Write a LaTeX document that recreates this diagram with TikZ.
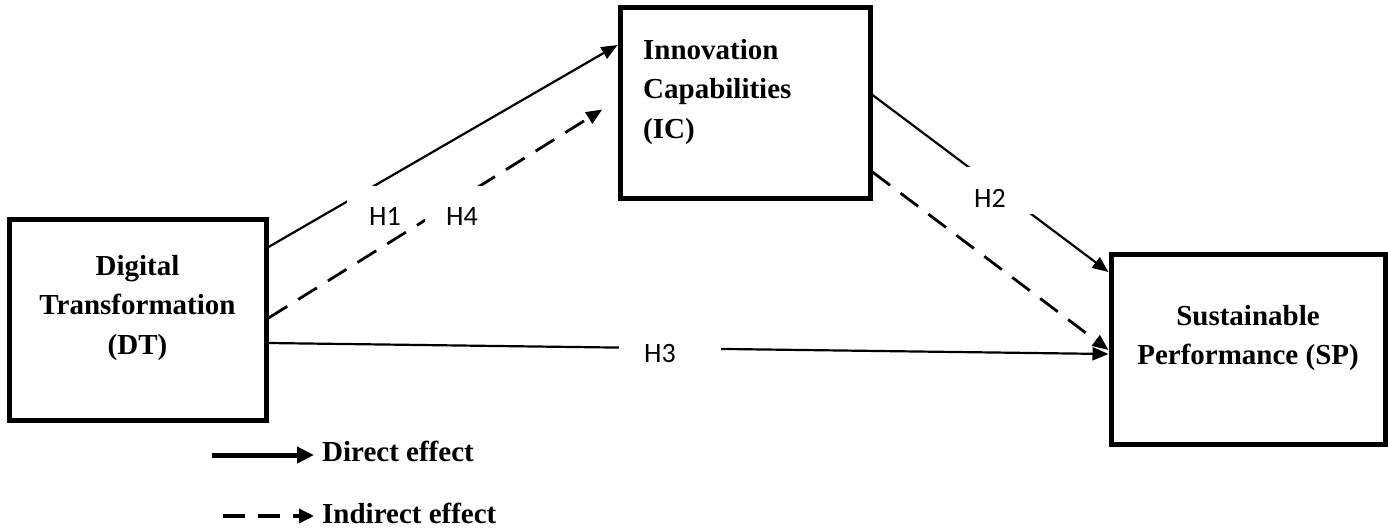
\documentclass[tikz,border=0pt]{standalone}
\usepackage{fontspec}
\setmainfont{Liberation Serif}
\newfontfamily\calib{Carlito}
\usetikzlibrary{arrows.meta}
\begin{document}
\begin{tikzpicture}[x=1pt,y=-1pt,
  box/.style={draw, line width=5pt, inner sep=0pt},
  btext/.style={font=\bfseries\fontsize{29}{39.5}\selectfont, inner sep=0pt},
  hlabel/.style={font=\calib\fontsize{28}{28}\selectfont, fill=white, inner sep=0pt, anchor=base west},
  direct/.style={line width=2.2pt, -{Triangle[length=16pt,width=13pt]}},
  indirect/.style={line width=2.8pt, dash pattern=on 22pt off 13pt, -{Triangle[length=16pt,width=13pt]}}
]
\useasboundingbox (0,0) rectangle (1388,531);

% boxes
\node[box, minimum width=257pt, minimum height=201pt] (DT) at (137.5,319.5) {};
\node[box, minimum width=250pt, minimum height=191pt] (IC) at (745,102.5) {};
\node[box, minimum width=274pt, minimum height=190pt] (SP) at (1248,349) {};

\node[btext, align=center, anchor=north] (DTt) at (137.5,255) {Digital\\Transformation\\(DT)};
\node[btext, align=left, anchor=north west] (ICt) at (643,39) {Innovation\\Capabilities\\(IC)};
\node[btext, align=center, anchor=north] (SPt) at (1248,305) {Sustainable\\Performance (SP)};

% H1 and H4
\draw[direct] (DT.east |- 0,247) -- (IC.west |- 0,45);
\node[hlabel, text height=39pt, text depth=5pt] (H1) at (347,225) {\hspace*{22pt}H1\hspace*{30pt}};
\draw[indirect, shorten >=18pt] (DT.east |- 0,318) -- (IC.west |- 0,100);
\node[hlabel, text height=39pt, text depth=5pt] (H4) at (425,225) {\hspace*{21pt}H4\hspace*{30pt}};

% H2
\draw[direct] (IC.east |- 0,95) -- (SP.west |- 0,272);
\node[hlabel, text height=40pt, text depth=7pt] (H2) at (953,207) {\hspace*{21pt}H2\hspace*{35pt}};
\draw[indirect] (IC.east |- 0,172) -- (SP.west |- 0,350);

% H3
\draw[direct] (DT.east |- 0,343) -- (SP.west |- 0,354);
\node[hlabel, text height=22pt, text depth=6pt] (H3) at (619,362) {\hspace*{25pt}H3\hspace*{45pt}};

% legend
\coordinate (L1a) at (212,455);
\coordinate (L1b) at (314,455);
\draw[line width=5pt, -{Triangle[length=17pt,width=16pt]}] (L1a) -- (L1b);
\node[btext, anchor=base west] (L1t) at (322,461) {Direct effect};
\coordinate (L2a) at (223,516);
\coordinate (L2b) at (314,516);
\draw[line width=3.5pt, dash pattern=on 22pt off 13pt, -{Triangle[length=15pt,width=14pt]}] (L2a) -- (L2b);
\node[btext, anchor=base west] (L2t) at (322,523) {Indirect effect};
\end{tikzpicture}
\end{document}
